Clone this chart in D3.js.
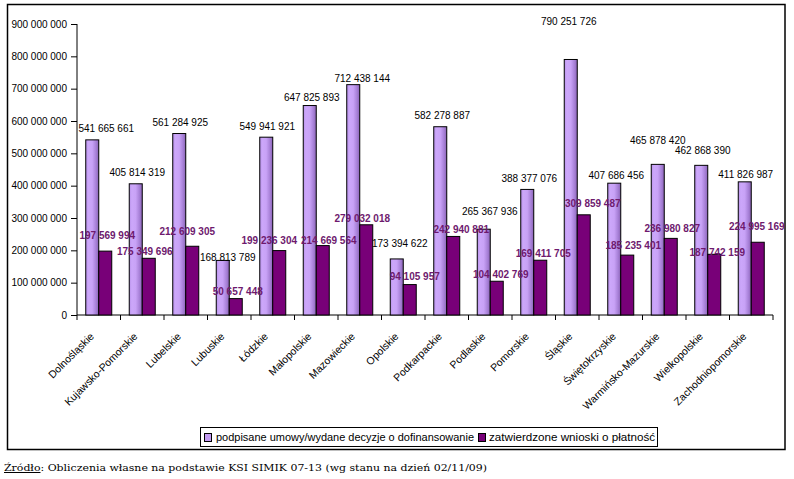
<!DOCTYPE html>
<html><head><meta charset="utf-8">
<script src="https://cdn.jsdelivr.net/npm/d3@7"></script>
<style>
body{margin:0;background:#fff;}
svg{display:block;font-family:"Liberation Sans",Arial,sans-serif;}
</style></head>
<body><svg id="c" width="794" height="479"></svg>
<script>
const categories = ["Dolnośląskie","Kujawsko-Pomorskie","Lubelskie","Lubuskie","Łódzkie","Małopolskie","Mazowieckie","Opolskie","Podkarpackie","Podlaskie","Pomorskie","Śląskie","Świętokrzyskie","Warmińsko-Mazurskie","Wielkopolskie","Zachodniopomorskie"];
const seriesNames = ["podpisane umowy/wydane decyzje o dofinansowanie","zatwierdzone wnioski o płatność"];
const signedValues = [541665661,405814319,561284925,168813789,549941921,647825893,712438144,173394622,582278887,265367936,388377076,790251726,407686456,465878420,462868390,411826987];
const approvedValues = [197569994,175349696,212609305,50657448,199236304,214669564,279032018,94105957,242940881,104402769,169411705,309859487,185235401,236980827,187742159,224995169];
const yTicks = [0,100000000,200000000,300000000,400000000,500000000,600000000,700000000,800000000,900000000];
const sourceNote = "Obliczenia własne na podstawie KSI SIMIK 07-13 (wg stanu na dzień 02/11/09)";

// label nudges (pixels) as placed in the original
const lift1 = [11,11,11,3,11,8,6.4,15.6,11.4,17.5,11,38,8,24,15,7.6];
const shift1 = [14,1.5,1,5,1,2,9,3,2,6,2,-2,2,0,1.5,1];
const lift2 = [16,6.6,14.6,7.6,10,5,6.5,8,7,7,7,11.5,10,10,2,16];
const shift2 = [2,-4,-5,2,-10,6,-4,5,8,4,3,9,6,1.5,3,-1];

const svg = d3.select("#c");
const fmt = v => d3.format(",")(v).replace(/,/g," ");
const L=77, R=773, T=24, B=315;

const defs = svg.append("defs");
const g1 = defs.append("linearGradient").attr("id","lg").attr("x1","0").attr("x2","1").attr("y1","0").attr("y2","0");
[[0,"#b892ea"],[0.2,"#cca7fa"],[0.5,"#c8a2f6"],[0.8,"#a67fd6"],[1,"#8a64b4"]].forEach(([o,c])=>g1.append("stop").attr("offset",o).attr("stop-color",c));

svg.append("rect").attr("x",7.5).attr("y",4.5).attr("width",777.5).attr("height",445).attr("fill","#fff").attr("stroke","#000").attr("stroke-width",1.5);

const x0 = d3.scaleBand().domain(categories).range([L,R]).paddingInner(0).paddingOuter(0);
const x1 = d3.scaleBand().domain(["s1","s2"]).range([0,x0.bandwidth()]).paddingInner(0).paddingOuter(0.673);
const y = d3.scaleLinear().domain([0,900000000]).range([B,T]);

// y axis
const ya = svg.append("g").attr("transform",`translate(${L},0)`)
  .call(d3.axisLeft(y).tickValues(yTicks).tickFormat(fmt).tickSize(6).tickPadding(4));
ya.select(".domain").attr("stroke","#000").attr("d",`M-0,${B}V${T}`);
ya.selectAll("text").attr("font-size",10).attr("font-family","Liberation Sans, Arial, sans-serif").attr("fill","#000");

// x axis
const xa = svg.append("g").attr("transform",`translate(0,${B})`)
  .call(d3.axisBottom(x0).tickSize(0).tickFormat(""));
xa.select(".domain").attr("stroke","#000").attr("d",`M${L},0H${R}`);
xa.selectAll(".tick").remove();
const bounds = categories.map(c=>x0(c)).concat([R]);
xa.selectAll("line.bt").data(bounds).join("line").attr("class","bt")
  .attr("x1",d=>d).attr("x2",d=>d).attr("y1",0).attr("y2",5).attr("stroke","#000");

// bars
const grp = svg.append("g");
grp.selectAll("rect.s1").data(signedValues).join("rect").attr("class","s1")
  .attr("x",(d,i)=>x0(categories[i])+x1("s1")).attr("y",d=>y(d))
  .attr("width",x1.bandwidth()).attr("height",d=>B-y(d))
  .attr("fill","url(#lg)").attr("stroke","#000").attr("stroke-width",1);
grp.selectAll("rect.s2").data(approvedValues).join("rect").attr("class","s2")
  .attr("x",(d,i)=>x0(categories[i])+x1("s2")).attr("y",d=>y(d))
  .attr("width",x1.bandwidth()).attr("height",d=>B-y(d))
  .attr("fill","#780078").attr("stroke","#000").attr("stroke-width",1);

// labels
svg.append("g").selectAll("text").data(signedValues).join("text")
  .attr("x",(d,i)=>x0(categories[i])+x1("s1")+x1.bandwidth()/2+shift1[i])
  .attr("y",(d,i)=>y(d)-lift1[i]).attr("dy","0.35em")
  .attr("text-anchor","middle").attr("font-size",10).attr("fill","#000")
  .text(fmt);
svg.append("g").selectAll("text").data(approvedValues).join("text")
  .attr("x",(d,i)=>x0(categories[i])+x1("s2")+x1.bandwidth()/2+shift2[i])
  .attr("y",(d,i)=>y(d)-lift2[i]).attr("dy","0.35em")
  .attr("text-anchor","middle").attr("font-size",10).attr("font-weight","bold").attr("fill","#6e1a6e")
  .text(fmt);

// category labels
svg.append("g").selectAll("text").data(categories).join("text")
  .attr("transform",d=>`translate(${x0(d)+x0.bandwidth()/2-4},${B+22}) rotate(-45)`)
  .attr("text-anchor","end").attr("font-size",10.5).attr("fill","#000").text(d=>d);

// legend
const lg = svg.append("g").attr("font-family","'Liberation Sans', Arial, sans-serif");
lg.append("rect").attr("x",200.5).attr("y",427.5).attr("width",457).attr("height",19).attr("fill","#fff").attr("stroke","#000");
lg.append("rect").attr("x",204.5).attr("y",433.5).attr("width",7).attr("height",8).attr("fill","#c39bf2").attr("stroke","#000");
lg.append("text").attr("x",216).attr("y",441).attr("font-size",11).attr("textLength",258).attr("lengthAdjust","spacingAndGlyphs").text(seriesNames[0]);
lg.append("rect").attr("x",478.5).attr("y",433.5).attr("width",7).attr("height",8).attr("fill","#780078").attr("stroke","#000");
lg.append("text").attr("x",489).attr("y",441).attr("font-size",11).attr("textLength",166).attr("lengthAdjust","spacingAndGlyphs").text(seriesNames[1]);

// source
const src = svg.append("text").attr("x",4).attr("y",471).attr("font-family","DejaVu Serif, serif").attr("font-size",10).attr("fill","#000")
  .attr("textLength",483).attr("lengthAdjust","spacingAndGlyphs");
src.append("tspan").attr("text-decoration","underline").text("Źródło");
src.append("tspan").text(": " + sourceNote);
</script></body></html>
